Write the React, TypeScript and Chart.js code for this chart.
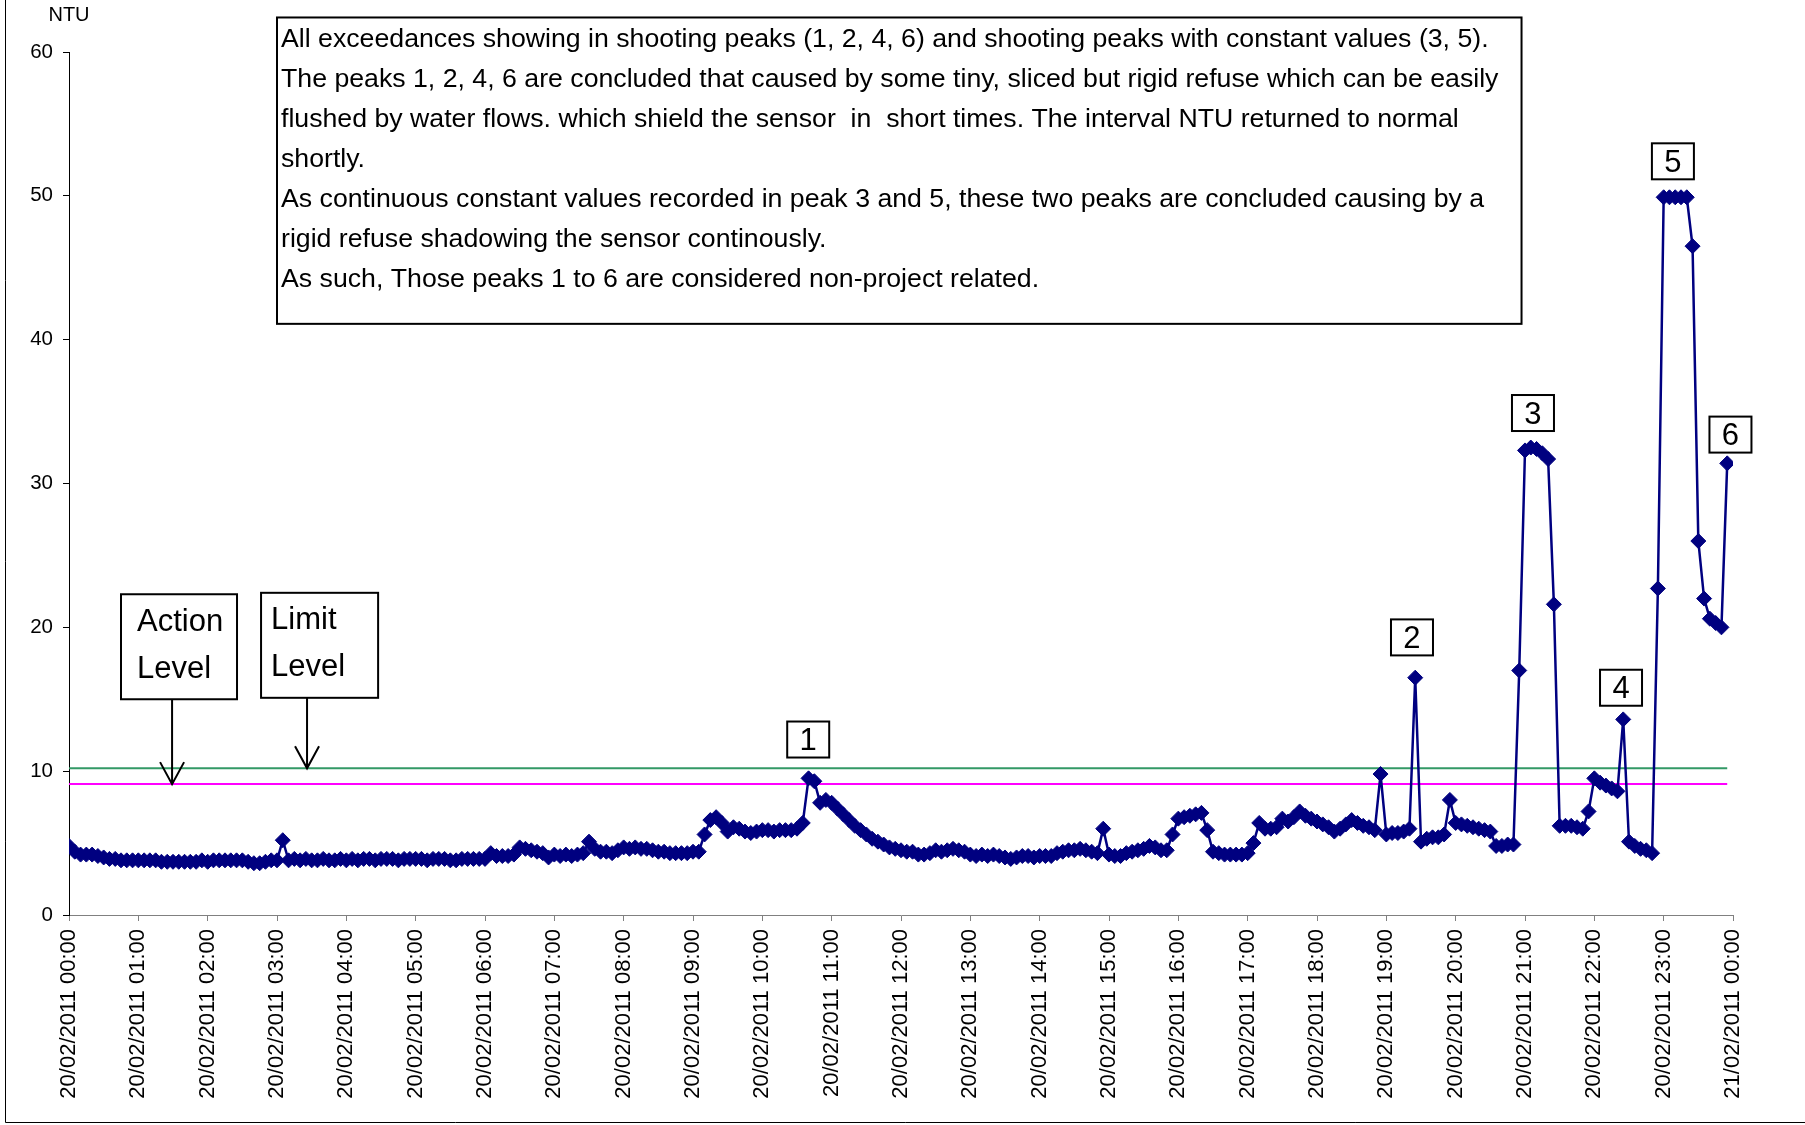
import React, { useEffect, useRef } from "react";
import { Chart, registerables } from "chart.js";

Chart.register(...registerables);

const DAY_LABELS = ["20/02/2011", "21/02/2011"];
const STEP_MINUTES = 5;
const X_MAX_MINUTES = 1440;
const X_STEP_MINUTES = 60;
const Y_MAX = 60;
const Y_STEP = 10;
const ACTION_LEVEL = 9.1;
const LIMIT_LEVEL = 10.2;

// NTU readings every 5 minutes, one row per hour (00:00 .. 23:55)
const NTU_H00 = [4.8, 4.4, 4.2, 4.2, 4.2, 4.1, 4.0, 3.9, 3.9, 3.8, 3.8, 3.8];
const NTU_H01 = [3.8, 3.8, 3.8, 3.8, 3.7, 3.7, 3.7, 3.7, 3.7, 3.7, 3.7, 3.8];
const NTU_H02 = [3.7, 3.8, 3.8, 3.8, 3.8, 3.8, 3.8, 3.7, 3.6, 3.6, 3.7, 3.8];
const NTU_H03 = [3.8, 5.2, 3.8, 3.9, 3.8, 3.9, 3.8, 3.8, 3.9, 3.8, 3.8, 3.9];
const NTU_H04 = [3.8, 3.9, 3.8, 3.9, 3.9, 3.8, 3.9, 3.9, 3.9, 3.8, 3.9, 3.9];
const NTU_H05 = [3.9, 3.9, 3.8, 3.9, 3.9, 3.9, 3.8, 3.8, 3.9, 3.9, 3.9, 3.9];
const NTU_H06 = [3.9, 4.3, 4.1, 4.1, 4.1, 4.2, 4.7, 4.6, 4.5, 4.4, 4.3, 4.0];
const NTU_H07 = [4.2, 4.1, 4.2, 4.1, 4.2, 4.3, 5.1, 4.6, 4.4, 4.4, 4.3, 4.5];
const NTU_H08 = [4.7, 4.6, 4.7, 4.6, 4.6, 4.5, 4.4, 4.4, 4.3, 4.3, 4.3, 4.3];
const NTU_H09 = [4.4, 4.4, 5.6, 6.6, 6.8, 6.4, 5.8, 6.1, 6.0, 5.8, 5.7, 5.8];
const NTU_H10 = [5.9, 5.9, 5.8, 5.9, 5.9, 5.9, 6.0, 6.4, 9.5, 9.3, 7.8, 8.0];
const NTU_H11 = [7.8, 7.4, 7.0, 6.6, 6.2, 5.9, 5.6, 5.3, 5.1, 4.9, 4.7, 4.6];
const NTU_H12 = [4.5, 4.4, 4.4, 4.2, 4.2, 4.3, 4.5, 4.4, 4.5, 4.6, 4.5, 4.4];
const NTU_H13 = [4.2, 4.1, 4.2, 4.1, 4.2, 4.1, 4.0, 3.9, 4.0, 4.1, 4.1, 4.0];
const NTU_H14 = [4.1, 4.1, 4.1, 4.3, 4.4, 4.5, 4.5, 4.6, 4.5, 4.4, 4.3, 6.0];
const NTU_H15 = [4.2, 4.1, 4.1, 4.3, 4.4, 4.5, 4.6, 4.8, 4.7, 4.5, 4.5, 5.6];
const NTU_H16 = [6.7, 6.8, 6.9, 7.0, 7.1, 5.9, 4.4, 4.3, 4.2, 4.2, 4.2, 4.2];
const NTU_H17 = [4.3, 5.0, 6.4, 6.0, 6.0, 6.1, 6.7, 6.5, 6.8, 7.2, 6.9, 6.7];
const NTU_H18 = [6.5, 6.3, 6.1, 5.8, 6.0, 6.3, 6.6, 6.4, 6.2, 6.1, 5.9, 9.8];
const NTU_H19 = [5.6, 5.7, 5.7, 5.8, 6.0, 16.5, 5.1, 5.3, 5.4, 5.4, 5.6, 8.0];
const NTU_H20 = [6.4, 6.3, 6.2, 6.1, 6.0, 5.9, 5.8, 4.8, 4.8, 4.9, 4.9, 17.0];
const NTU_H21 = [32.3, 32.5, 32.4, 32.1, 31.7, 21.6, 6.2, 6.2, 6.2, 6.1, 6.0, 7.2];
const NTU_H22 = [9.5, 9.2, 9.0, 8.8, 8.6, 13.6, 5.1, 4.8, 4.6, 4.5, 4.3, 22.7];
const NTU_H23 = [49.9, 49.9, 49.9, 49.9, 49.9, 46.5, 26.0, 22.0, 20.6, 20.3, 20.0, 31.4];

const NTU_VALUES = [
  NTU_H00, NTU_H01, NTU_H02, NTU_H03, NTU_H04, NTU_H05, NTU_H06, NTU_H07,
  NTU_H08, NTU_H09, NTU_H10, NTU_H11, NTU_H12, NTU_H13, NTU_H14, NTU_H15,
  NTU_H16, NTU_H17, NTU_H18, NTU_H19, NTU_H20, NTU_H21, NTU_H22, NTU_H23,
].flat();

const NOTE_LINES = [
  "All exceedances showing in shooting peaks (1, 2, 4, 6) and shooting peaks with constant values (3, 5).",
  "The peaks 1, 2, 4, 6 are concluded that caused by some tiny, sliced but rigid refuse which can be easily",
  "flushed by water flows. which shield the sensor  in  short times. The interval NTU returned to normal",
  "shortly.",
  "As continuous constant values recorded in peak 3 and 5, these two peaks are concluded causing by a",
  "rigid refuse shadowing the sensor continously.",
  "As such, Those peaks 1 to 6 are considered non-project related.",
];

// annotation anchors in data units (minutes, NTU)
const NOTE_BOX = { m0: 180, m1: 1257, top: 62.4, bottom: 41.1 };
const LEVEL_TAGS = [
  { lines: ["Action", "Level"], m0: 45, m1: 145.4, top: 22.3, bottom: 15.0, arrowMinute: 89.2, level: ACTION_LEVEL, textInset: 16 },
  { lines: ["Limit", "Level"], m0: 166.2, m1: 267.5, top: 22.4, bottom: 15.1, arrowMinute: 206, level: LIMIT_LEVEL, textInset: 10 },
];
const PEAK_TAGS = [
  { tag: "1", minute: 639.7, ntu: 12.2 },
  { tag: "2", minute: 1162.2, ntu: 19.3 },
  { tag: "3", minute: 1266.9, ntu: 34.9 },
  { tag: "4", minute: 1343.1, ntu: 15.8 },
  { tag: "5", minute: 1388, ntu: 52.4 },
  { tag: "6", minute: 1437.8, ntu: 33.4 },
];

const FONT = '"Liberation Sans", Arial, Helvetica, sans-serif';

const pad2 = (n: number) => (n < 10 ? "0" + n : "" + n);

const notesPlugin = {
  id: "notes",
  afterDraw(chart: any) {
    const { ctx } = chart;
    const xs = chart.scales.x;
    const ys = chart.scales.y;
    const px = (m: number) => xs.getPixelForValue(m);
    const py = (v: number) => ys.getPixelForValue(v);
    ctx.save();

    // outer chart frame (left and bottom edges visible)
    ctx.strokeStyle = "#000";
    ctx.lineWidth = 1;
    ctx.beginPath();
    ctx.moveTo(5.5, 0);
    ctx.lineTo(5.5, 1122.5);
    ctx.lineTo(chart.width, 1122.5);
    ctx.stroke();

    // NTU unit label
    ctx.fillStyle = "#000";
    ctx.font = `20px ${FONT}`;
    ctx.textAlign = "center";
    ctx.textBaseline = "middle";
    ctx.fillText("NTU", xs.left, 15);

    // note box
    const nx0 = px(NOTE_BOX.m0), nx1 = px(NOTE_BOX.m1);
    const ny0 = py(NOTE_BOX.top), ny1 = py(NOTE_BOX.bottom);
    ctx.fillStyle = "#fff";
    ctx.fillRect(nx0, ny0, nx1 - nx0, ny1 - ny0);
    ctx.strokeStyle = "#000";
    ctx.lineWidth = 2;
    ctx.strokeRect(nx0, ny0, nx1 - nx0, ny1 - ny0);
    ctx.fillStyle = "#000";
    ctx.font = `26.7px ${FONT}`;
    ctx.textAlign = "left";
    ctx.textBaseline = "alphabetic";
    NOTE_LINES.forEach((line, k) => {
      ctx.fillText(line, nx0 + 4, ny0 + 30 + k * 40);
    });

    // action / limit tags with arrows
    LEVEL_TAGS.forEach((t) => {
      const x0 = px(t.m0), x1 = px(t.m1);
      const y0 = py(t.top), y1 = py(t.bottom);
      ctx.fillStyle = "#fff";
      ctx.fillRect(x0, y0, x1 - x0, y1 - y0);
      ctx.strokeStyle = "#000";
      ctx.lineWidth = 2;
      ctx.strokeRect(x0, y0, x1 - x0, y1 - y0);
      ctx.fillStyle = "#000";
      ctx.font = `31px ${FONT}`;
      ctx.textAlign = "left";
      ctx.textBaseline = "middle";
      t.lines.forEach((s, k) => ctx.fillText(s, x0 + t.textInset, y0 + 28 + k * 47));
      const ax = px(t.arrowMinute);
      const tip = py(t.level);
      ctx.beginPath();
      ctx.moveTo(ax, y1);
      ctx.lineTo(ax, tip);
      ctx.moveTo(ax - 12, tip - 22);
      ctx.lineTo(ax, tip);
      ctx.lineTo(ax + 12, tip - 22);
      ctx.stroke();
    });

    // peak tags
    PEAK_TAGS.forEach((p) => {
      const cx = px(p.minute), cy = py(p.ntu);
      const w = 42, h = 36;
      ctx.fillStyle = "#fff";
      ctx.fillRect(cx - w / 2, cy - h / 2, w, h);
      ctx.strokeStyle = "#000";
      ctx.lineWidth = 2;
      ctx.strokeRect(cx - w / 2, cy - h / 2, w, h);
      ctx.fillStyle = "#000";
      ctx.font = `31px ${FONT}`;
      ctx.textAlign = "center";
      ctx.textBaseline = "middle";
      ctx.fillText(p.tag, cx, cy + 2);
    });

    ctx.restore();
  },
};

export default function App() {
  const canvasRef = useRef<HTMLCanvasElement | null>(null);

  useEffect(() => {
    document.body.style.margin = "0";
    const canvas = canvasRef.current;
    if (!canvas) return;
    const lastMinute = (NTU_VALUES.length - 1) * STEP_MINUTES;
    const points = NTU_VALUES.map((v, i) => ({ x: i * STEP_MINUTES, y: v }));

    const chart = new Chart(canvas, {
      type: "line",
      data: {
        datasets: [
          {
            label: "NTU",
            data: points,
            borderColor: "#000080",
            backgroundColor: "#000080",
            borderWidth: 2.5,
            pointStyle: "rectRot",
            pointRadius: 7.5,
            pointBorderWidth: 1,
            pointBorderColor: "#000080",
            pointBackgroundColor: "#000080",
            tension: 0,
            order: 0,
          },
          {
            label: "Limit Level",
            data: [{ x: 0, y: LIMIT_LEVEL }, { x: lastMinute, y: LIMIT_LEVEL }],
            borderColor: "#339966",
            borderWidth: 2,
            pointRadius: 0,
            order: 1,
          },
          {
            label: "Action Level",
            data: [{ x: 0, y: ACTION_LEVEL }, { x: lastMinute, y: ACTION_LEVEL }],
            borderColor: "#FF00FF",
            borderWidth: 2,
            pointRadius: 0,
            order: 1,
          },
        ],
      },
      options: {
        responsive: false,
        animation: false,
        events: [],
        layout: { padding: { left: 0, top: 52, right: 72, bottom: 0 } },
        plugins: { legend: { display: false }, tooltip: { enabled: false } },
        scales: {
          x: {
            type: "linear",
            min: 0,
            max: X_MAX_MINUTES,
            afterFit: (s: any) => {
              s.height = 210;
            },
            afterBuildTicks: (s: any) => {
              const t = [];
              for (let m = 0; m <= X_MAX_MINUTES; m += X_STEP_MINUTES) t.push({ value: m });
              s.ticks = t;
            },
            ticks: {
              autoSkip: false,
              maxRotation: 90,
              minRotation: 90,
              padding: 8,
              color: "#000",
              font: { family: FONT, size: 22 },
              callback: (value: any) => {
                const m = Number(value);
                if (m >= X_MAX_MINUTES) return `${DAY_LABELS[1]} 00:00`;
                return `${DAY_LABELS[0]} ${pad2(Math.floor(m / 60))}:00`;
              },
            },
            grid: { drawOnChartArea: false, drawTicks: true, tickLength: 6, color: "#808080" },
            border: { color: "#808080", width: 1 },
          },
          y: {
            min: 0,
            max: Y_MAX,
            afterFit: (s: any) => {
              s.width = 69;
            },
            ticks: {
              stepSize: Y_STEP,
              padding: 10,
              color: "#000",
              font: { family: FONT, size: 20.5 },
            },
            grid: { drawOnChartArea: false, drawTicks: true, tickLength: 6, color: "#000" },
            border: { color: "#000", width: 1 },
          },
        },
      },
      plugins: [notesPlugin],
    });
    return () => chart.destroy();
  }, []);

  return (
    <div style={{ width: 1805, height: 1125, background: "#fff" }}>
      <canvas ref={canvasRef} width={1805} height={1125} style={{ width: 1805, height: 1125, display: "block" }} />
    </div>
  );
}
